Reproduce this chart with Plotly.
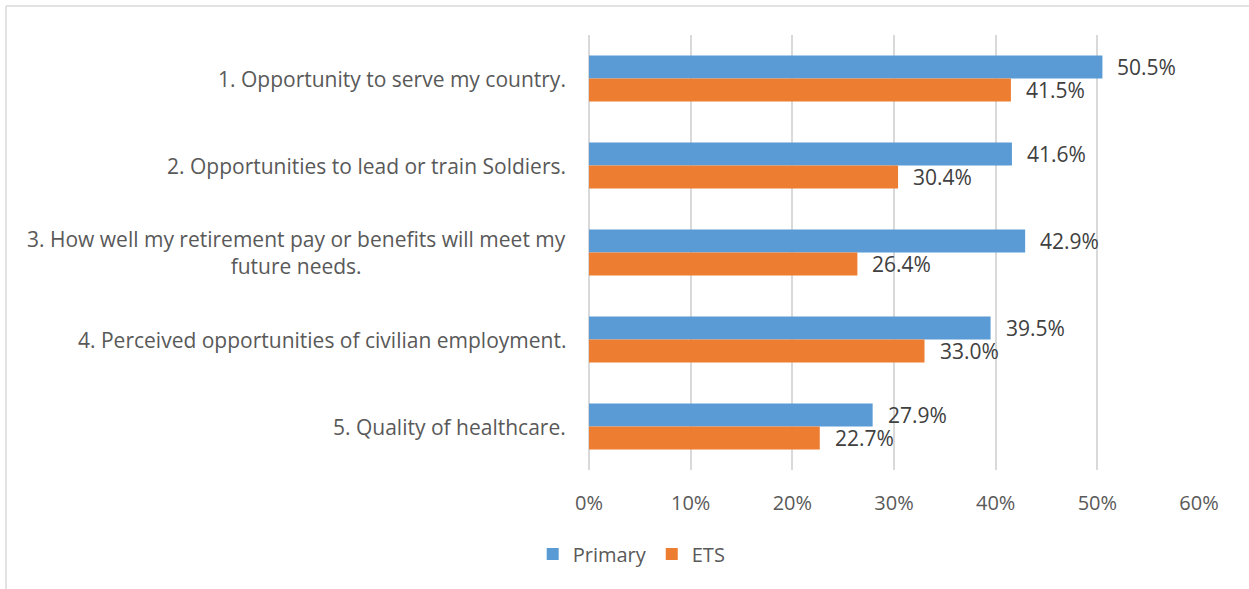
import plotly.graph_objects as go

categories = [
    "1. Opportunity to serve my country.",
    "2. Opportunities to lead or train Soldiers.",
    "3. How well my retirement pay or benefits will meet my<br>future needs.",
    "4. Perceived opportunities of civilian employment.",
    "5. Quality of healthcare.",
]
primary = [50.5, 41.6, 42.9, 39.5, 27.9]
ets = [41.5, 30.4, 26.4, 33.0, 22.7]
x_ticks = [0, 10, 20, 30, 40, 50, 60]
x_tick_labels = ["0%", "10%", "20%", "30%", "40%", "50%", "60%"]

FONT = "Open Sans"
BLUE = "#5B9BD5"
ORANGE = "#ED7D31"
GRID = "#D9D9D9"

fig = go.Figure()
for name, vals, col in [("Primary", primary, BLUE), ("ETS", ets, ORANGE)]:
    fig.add_trace(go.Bar(
        name=name, y=categories, x=vals, orientation="h",
        marker=dict(color=col, line=dict(width=0)),
        hoverinfo="skip",
    ))

# data labels
for vals, ysh in [(primary, 11.5), (ets, -11.5)]:
    for c, v in zip(categories, vals):
        fig.add_annotation(
            x=v, y=c, xref="x", yref="y", xanchor="left", yanchor="middle",
            xshift=13, yshift=ysh, text=f"{v:.1f}%", showarrow=False,
            font=dict(family=FONT, size=21, color="#404040"),
        )

# category labels
for c in categories:
    fig.add_annotation(
        x=0, y=c, xref="x", yref="y", xanchor="right", yanchor="middle",
        xshift=-21, text=c, showarrow=False, align="center",
        font=dict(family=FONT, size=21, color="#595959"),
    )

# chart border (top and left visible)
fig.add_shape(type="line", xref="paper", yref="paper", x0=-0.9557, x1=1.2,
              y0=1.0667, y1=1.0667, line=dict(color=GRID, width=1.5))
fig.add_shape(type="line", xref="paper", yref="paper", x0=-0.9557, x1=-0.9557,
              y0=1.0667, y1=-0.4, line=dict(color=GRID, width=1.5))

fig.update_layout(
    width=1249, height=589,
    margin=dict(l=589, r=50, t=35, b=119),
    paper_bgcolor="white", plot_bgcolor="white",
    barmode="group", bargap=0.47, bargroupgap=0,
    showlegend=True,
    legend=dict(orientation="h", x=0.07, y=-0.193, xanchor="center", yanchor="middle",
                font=dict(family=FONT, size=20, color="#595959"), itemwidth=30,
                traceorder="normal"),
    xaxis=dict(range=[0, 60], tickvals=x_ticks, ticktext=x_tick_labels,
               showgrid=True, gridcolor=GRID, gridwidth=1.5,
               zeroline=True, zerolinecolor=GRID, zerolinewidth=1.5,
               showline=False, ticks="", ticklabelstandoff=19,
               tickfont=dict(family=FONT, size=20, color="#595959")),
    yaxis=dict(autorange="reversed", showticklabels=False, showgrid=False,
               zeroline=False, showline=False, ticks=""),
    font=dict(family=FONT),
)

fig.write_html("out.html")
